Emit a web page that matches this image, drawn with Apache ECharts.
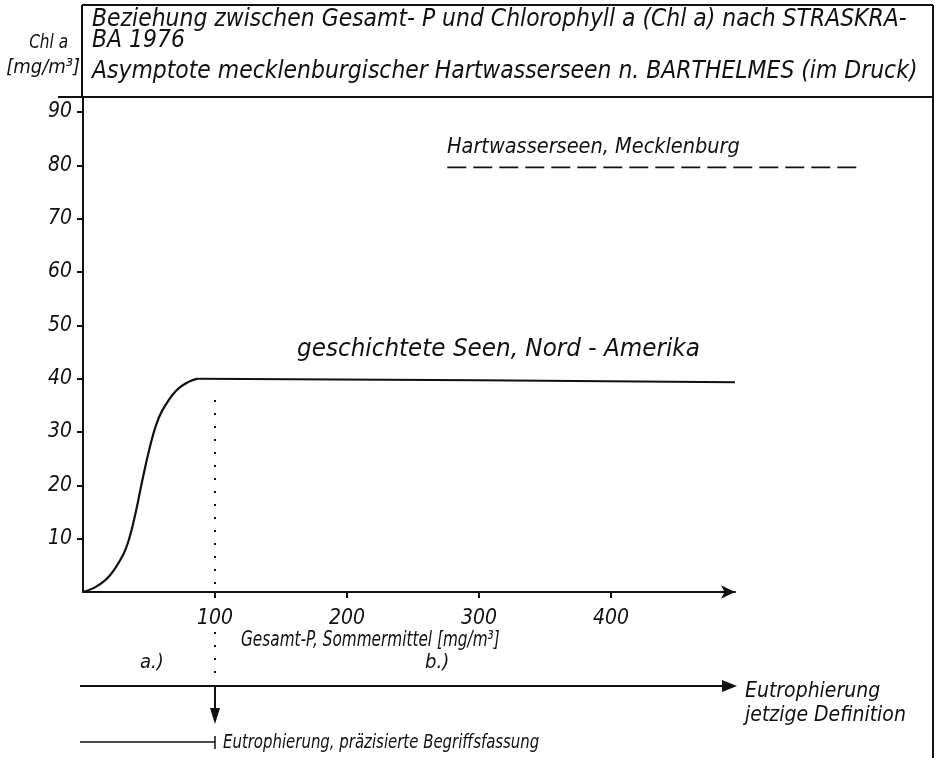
<!DOCTYPE html>
<html><head><meta charset="utf-8">
<script src="https://cdn.jsdelivr.net/npm/echarts@6/dist/echarts.min.js"></script>
<style>html,body{margin:0;padding:0;background:#fff}#c{width:938px;height:758px}</style>
</head><body><div id="c"></div>
<script>
// Gesamt-P (x) vs Chl a (y)
const riseP     = [0, 10, 20, 30, 35, 40, 45, 50, 55, 60, 70, 80, 87];
const riseChl   = [0, 1.0, 3.0, 6.8, 10, 15, 21, 26.5, 31, 34, 37.6, 39.4, 40];
const plateauP   = [87, 300, 494];
const plateauChl = [40, 39.7, 39.3];
const hartP    = [276, 590];
const hartChl  = [79.6, 79.6];
const limitP   = [100, 100];
const limitChl = [1.5, 38];
const yTickValues = [10, 20, 30, 40, 50, 60, 70, 80, 90];
const xTickValues = [100, 200, 300, 400];
const xMax = 494, yMax = 92.8;

const FONT = '"DejaVu Sans Condensed", "Liberation Sans Narrow", sans-serif';
const INK = '#111';

const chart = echarts.init(document.getElementById('c'));
const zip = (a, b) => a.map((v, i) => [v, b[i]]);

// second (hidden) grid with the same scale, wider, so the dashed asymptote can run past the axis end
const gLeft = 83, gRight1 = 938 - 735, gRight2 = 5;
const w1 = 938 - gLeft - gRight1, w2 = 938 - gLeft - gRight2;
const xMax2 = xMax * w2 / w1;

chart.setOption({
  animation: false,
  backgroundColor: '#fff',
  grid: [
    { left: gLeft, right: gRight1, top: 97, bottom: 758 - 592, containLabel: false },
    { left: gLeft, right: gRight2, top: 97, bottom: 758 - 592, containLabel: false }
  ],
  xAxis: [{
    type: 'value', min: 0, max: xMax, gridIndex: 0,
    axisLine: { show: true, symbol: ['none', 'arrow'], symbolSize: [10, 14], lineStyle: { color: INK, width: 2 } },
    axisTick: { show: true, customValues: xTickValues, length: 6, inside: false, lineStyle: { color: INK, width: 2 } },
    axisLabel: { customValues: xTickValues, color: INK, fontFamily: FONT, fontStyle: 'italic', fontSize: 21, margin: 16 },
    splitLine: { show: false }
  }, {
    type: 'value', min: 0, max: xMax2, gridIndex: 1, show: false
  }],
  yAxis: [{
    type: 'value', min: 0, max: yMax, gridIndex: 0,
    axisLine: { show: true, lineStyle: { color: INK, width: 2 } },
    axisTick: { show: true, customValues: yTickValues, length: 6, lineStyle: { color: INK, width: 2 } },
    axisLabel: { customValues: yTickValues, color: INK, fontFamily: FONT, fontStyle: 'italic', fontSize: 21, margin: 11 },
    splitLine: { show: false }
  }, {
    type: 'value', min: 0, max: yMax, gridIndex: 1, show: false
  }],
  series: [
    { type: 'line', data: zip(riseP, riseChl), smooth: 0.4, showSymbol: false,
      lineStyle: { color: INK, width: 2.2 } },
    { type: 'line', data: zip(plateauP, plateauChl), showSymbol: false,
      lineStyle: { color: INK, width: 2 } },
    { type: 'line', data: zip(hartP, hartChl), showSymbol: false, xAxisIndex: 1, yAxisIndex: 1,
      lineStyle: { color: INK, width: 1.6, type: [19, 7] } },
    { type: 'line', data: zip(limitP, limitChl), showSymbol: false,
      lineStyle: { color: INK, width: 2, type: [2, 11] } }
  ]
});

const px100 = chart.convertToPixel({ gridIndex: 0 }, [100, 0])[0];
const txt = (x, y, s, size, align, sx) => ({
  type: 'text', x, y, scaleX: sx || 1,
  style: { text: s, fill: INK, font: 'italic ' + size + 'px ' + FONT, textAlign: align || 'left', textVerticalAlign: 'middle' }
});
const line = (x1, y1, x2, y2, w, dash) => ({
  type: 'line', shape: { x1, y1, x2, y2 },
  style: { stroke: INK, lineWidth: w || 2, lineDash: dash || null }
});
const tri = (pts) => ({ type: 'polygon', shape: { points: pts }, style: { fill: INK } });

chart.setOption({
  graphic: [
    // frame
    line(82, 5, 933, 5, 2),
    line(933, 5, 933, 758, 2),
    line(58, 97, 933, 97, 2),
    line(82, 5, 82, 97, 2),
    // title
    txt(92, 20, 'Beziehung zwischen Gesamt- P und Chlorophyll a (Chl a) nach STRASKRA-', 24.4),
    txt(92, 41, 'BA 1976', 24.4),
    txt(92, 72, 'Asymptote mecklenburgischer Hartwasserseen n. BARTHELMES (im Druck)', 24.4),
    // y axis name
    txt(68, 43, 'Chl a', 20, 'right', 0.85),
    txt(80, 68, '[mg/m³]', 20, 'right'),
    // series labels
    txt(447, 147, 'Hartwasserseen, Mecklenburg', 21.5),
    txt(297, 350, 'geschichtete Seen, Nord - Amerika', 24, 'left', 1.07),
    // x axis name
    txt(241, 641, 'Gesamt-P, Sommermittel [mg/m³]', 21, 'left', 0.81),
    // dotted continuation below axis
    line(px100, 632, px100, 680, 2, [2, 11]),
    // a.) b.)
    txt(140, 663, 'a.)', 20),
    txt(425, 663, 'b.)', 20),
    // eutrophication arrow (current definition)
    line(80, 686, 724, 686, 2),
    tri([[722, 680], [737, 686], [722, 692]]),
    txt(745, 692, 'Eutrophierung', 21),
    txt(745, 716, 'jetzige Definition', 21),
    // down arrow
    line(px100, 686, px100, 712, 2),
    tri([[px100 - 5, 708], [px100 + 5, 708], [px100, 724]]),
    // precise definition
    line(80, 742, px100, 742, 1.5),
    line(px100, 736, px100, 749, 1.5),
    txt(px100 + 8, 743, 'Eutrophierung, präzisierte Begriffsfassung', 20, 'left', 0.83)
  ]
});
</script></body></html>
